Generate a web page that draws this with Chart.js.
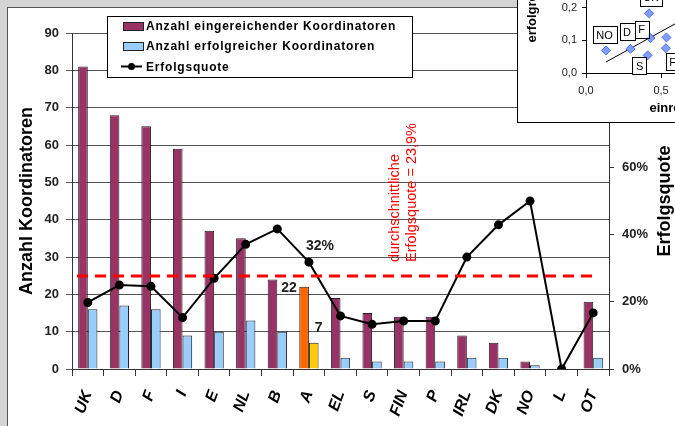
<!DOCTYPE html>
<html>
<head>
<meta charset="utf-8">
<script src="https://cdn.jsdelivr.net/npm/chart.js@4.4.1/dist/chart.umd.min.js"></script>
<style>
    html, body { margin: 0; padding: 0; width: 675px; height: 426px; overflow: hidden; background: #d4d4d4; }
    #frame { position: absolute; left: 7px; top: 7px; width: 720px; height: 460px; background: #fff; border: 1px solid #555; }
    #main { position: absolute; left: 0; top: 0; }
    #insetBox { position: absolute; left: 517px; top: -168px; width: 382px; height: 289px; background: #fff; border: 1px solid #000; }
    #insetBox canvas { display: block; }
</style>
</head>
<body>
<div id="frame"></div>
<canvas id="main" width="675" height="426"></canvas>
<div id="insetBox"><canvas id="inset" width="382" height="289"></canvas></div>

<script>
// Hauptdiagramm: Koordinatoren je Land
const categories = ['UK', 'D', 'F', 'I', 'E', 'NL', 'B', 'A', 'EL', 'S', 'FIN', 'P', 'IRL', 'DK', 'NO', 'L', 'OT'];
const submitted = [81, 68, 65, 59, 37, 35, 24, 22, 19, 15, 14, 14, 9, 7, 2, 0, 18];
const successful = [16, 17, 16, 9, 10, 13, 10, 7, 3, 2, 2, 2, 3, 3, 1, 0, 3];
const successRate = [19.8, 25.0, 24.6, 15.3, 27.0, 37.1, 41.7, 31.8, 15.8, 13.3, 14.3, 14.3, 33.3, 42.9, 50.0, 0, 16.7];
const highlightIndex = 7;          // A
const averageLevel = 24.9;         // Hoehe der roten Linie (linke Achse)
const averageText = ['durchschnittliche', 'Erfolgsquote = 23,9%'];
const countMax = 90, countStep = 10;
const rateMax = 100, rateStep = 20;

// Einsatz-Diagramm (Streudiagramm oben rechts)
const insetX = [0.134, 0.296, 0.41, 0.43, 0.42, 0.536, 0.532];
const insetY = [0.069, 0.074, 0.054, 0.107, 0.183, 0.109, 0.076];
const trendX = [0.134, 1.0];
const trendY = [0.034, 0.254];
const tagText = ['NO', 'D', 'F', 'S', 'FIN', 'UK'];
const tagX = [0.123, 0.273, 0.371, 0.357, 0.613, 0.432];
const tagY = [0.117, 0.126, 0.134, 0.022, 0.034, 0.232];

const MAROON = '#993366', LIGHTBLUE = '#99ccff', ORANGE = '#ff6600', YELLOW = '#ffcc00';

const maroonColors = categories.map((c, i) => i === highlightIndex ? ORANGE : MAROON);
const blueColors = categories.map((c, i) => i === highlightIndex ? YELLOW : LIGHTBLUE);

// Legende im Excel-Stil (Kasten ueber dem Diagramm)
const boxLegend = {
    id: 'boxLegend',
    afterDraw(chart) {
        const ctx = chart.ctx;
        const ds = chart.data.datasets;
        ctx.save();
        ctx.fillStyle = '#fff';
        ctx.fillRect(107, 16, 305, 61);
        ctx.strokeStyle = '#000';
        ctx.lineWidth = 1;
        ctx.strokeRect(107.5, 16.5, 305, 61);
        ctx.font = 'bold 12px Arial';
        if ('letterSpacing' in ctx) ctx.letterSpacing = '0.8px';
        ctx.textBaseline = 'middle';
        ctx.textAlign = 'left';
        const rows = [26, 46, 66.5];
        for (let k = 0; k < 3; k++) {
            const y = rows[k];
            if (k < 2) {
                ctx.fillStyle = k === 0 ? MAROON : LIGHTBLUE;
                ctx.fillRect(123, y - 4, 20, 8);
                ctx.strokeStyle = '#222';
                ctx.strokeRect(123.5, y - 3.5, 20, 8);
            } else {
                ctx.strokeStyle = '#000';
                ctx.lineWidth = 2;
                ctx.beginPath(); ctx.moveTo(121, y); ctx.lineTo(142, y); ctx.stroke();
                ctx.fillStyle = '#000';
                ctx.beginPath(); ctx.arc(131.5, y, 3.5, 0, Math.PI * 2); ctx.fill();
                ctx.lineWidth = 1;
            }
            ctx.fillStyle = '#000';
            ctx.fillText(ds[k].label, 146, y + 1);
        }
        ctx.restore();
    }
};

// rote Durchschnittslinie, Beschriftungen, rechter Achsentitel
const extras = {
    id: 'extras',
    afterDatasetsDraw(chart) {
        const ctx = chart.ctx;
        const area = chart.chartArea;
        const yS = chart.scales.y;
        const xS = chart.scales.x;
        const yAvg = yS.getPixelForValue(averageLevel);
        ctx.save();
        ctx.strokeStyle = '#ff0000';
        ctx.lineWidth = 3;
        ctx.setLineDash([11, 7]);
        ctx.beginPath();
        ctx.moveTo(area.left + 5, yAvg);
        ctx.lineTo(xS.getPixelForValue(categories.length - 1), yAvg);
        ctx.stroke();
        ctx.setLineDash([]);

        // Text zur Durchschnittsquote
        ctx.fillStyle = '#ff0000';
        ctx.font = '14.5px Arial';
        ctx.translate(area.left + 323, yAvg - 14);
        ctx.rotate(-Math.PI / 2);
        ctx.textAlign = 'left';
        ctx.textBaseline = 'middle';
        ctx.fillText(averageText[0], 0, 0);
        ctx.fillText(averageText[1], 0, 17);
        ctx.restore();

        // Werte fuer A
        const i = highlightIndex;
        const bar0 = chart.getDatasetMeta(0).data[i];
        const bar1 = chart.getDatasetMeta(1).data[i];
        const pt = chart.getDatasetMeta(2).data[i];
        ctx.save();
        ctx.fillStyle = '#222';
        ctx.font = 'bold 14px Arial';
        ctx.textAlign = 'center';
        ctx.textBaseline = 'middle';
        ctx.fillText(String(submitted[i]), bar0.x - 15, bar0.y + 1);
        ctx.fillText(String(successful[i]), bar1.x + 5, bar1.y - 15);
        ctx.fillText(Math.round(successRate[i]) + '%', pt.x + 11, pt.y - 16);
        ctx.restore();
    },
    afterDraw(chart) {
        const ctx = chart.ctx;
        const r = chart.scales.y1;
        ctx.save();
        ctx.fillStyle = '#000';
        ctx.font = 'bold 18px Arial';
        ctx.translate(r.right - 10, (r.top + r.bottom) / 2);
        ctx.rotate(-Math.PI / 2);
        ctx.textAlign = 'center';
        ctx.textBaseline = 'middle';
        ctx.fillText('Erfolgsquote', 0, 0);
        ctx.restore();
    }
};

new Chart(document.getElementById('main'), {
    type: 'bar',
    data: {
        labels: categories,
        datasets: [{
            label: 'Anzahl eingereichender Koordinatoren',
            data: submitted,
            backgroundColor: maroonColors,
            borderColor: '#222',
            borderWidth: 1,
            yAxisID: 'y',
            order: 2
        }, {
            label: 'Anzahl erfolgreicher Koordinatoren',
            data: successful,
            backgroundColor: blueColors,
            borderColor: '#222',
            borderWidth: 1,
            yAxisID: 'y',
            order: 2
        }, {
            type: 'line',
            label: 'Erfolgsquote',
            data: successRate,
            borderColor: '#000',
            borderWidth: 2,
            pointRadius: 3.5,
            pointBackgroundColor: '#000',
            pointBorderColor: '#000',
            tension: 0,
            yAxisID: 'y1',
            order: 0
        }]
    },
    plugins: [extras, boxLegend],
    options: {
        responsive: false,
        animation: false,
        devicePixelRatio: 1,
        categoryPercentage: 0.61,
        barPercentage: 1.0,
        layout: { padding: { top: 33, left: 0, right: 0, bottom: 0 } },
        scales: {
            x: {
                grid: { display: true, drawOnChartArea: false, tickLength: 7, color: '#333', offset: true },
                border: { color: '#333' },
                ticks: {
                    color: '#000',
                    font: { family: 'Arial', size: 16, weight: 'bold', style: 'italic' },
                    minRotation: 70,
                    maxRotation: 70,
                    padding: 12,
                    autoSkip: false
                },
                afterFit(s) { s.height = 57; }
            },
            y: {
                position: 'left',
                min: 0,
                max: countMax,
                ticks: {
                    stepSize: countStep,
                    color: '#222',
                    padding: 7,
                    font: { family: 'Arial', size: 13, weight: 'bold' }
                },
                grid: { color: '#555', tickLength: 6 },
                border: { color: '#333' },
                title: {
                    display: true,
                    text: 'Anzahl Koordinatoren',
                    color: '#000',
                    font: { family: 'Arial', size: 18, weight: 'bold' },
                    padding: { top: 16, bottom: 0 }
                },
                afterFit(s) { s.width = 72; }
            },
            y1: {
                position: 'right',
                min: 0,
                max: rateMax,
                ticks: {
                    stepSize: rateStep,
                    color: '#222',
                    padding: 8,
                    font: { family: 'Arial', size: 13, weight: 'bold' },
                    callback: v => v + '%'
                },
                grid: { drawOnChartArea: false, tickLength: 5, color: '#333' },
                border: { color: '#333' },
                afterFit(s) { s.width = 66; }
            }
        },
        plugins: {
            legend: { display: false },
            tooltip: { enabled: false }
        }
    }
});

// Kaestchen mit Laenderkuerzeln im Streudiagramm
const insetTags = {
    id: 'insetTags',
    afterDatasetsDraw(chart) {
        const ctx = chart.ctx;
        const xs = chart.scales.x, ys = chart.scales.y;
        ctx.save();
        ctx.font = '11px Arial';
        ctx.textAlign = 'center';
        ctx.textBaseline = 'middle';
        for (let k = 0; k < tagText.length; k++) {
            const cx = xs.getPixelForValue(tagX[k]);
            const cy = ys.getPixelForValue(tagY[k]);
            const w = ctx.measureText(tagText[k]).width + 7;
            const h = 17;
            ctx.fillStyle = '#fff';
            ctx.fillRect(cx - w / 2, cy - h / 2, w, h);
            ctx.strokeStyle = '#000';
            ctx.lineWidth = 1;
            ctx.strokeRect(Math.round(cx - w / 2) + 0.5, Math.round(cy - h / 2) + 0.5, Math.round(w), h);
            ctx.fillStyle = '#000';
            ctx.fillText(tagText[k], cx, cy + 1);
        }
        ctx.restore();
    }
};

const commaTick = v => v.toFixed(1).replace('.', ',');

new Chart(document.getElementById('inset'), {
    type: 'scatter',
    data: {
        datasets: [{
            label: 'Laender',
            data: insetX.map((x, i) => ({ x: x, y: insetY[i] })),
            pointStyle: 'rectRot',
            pointRadius: 4.5,
            backgroundColor: '#7f9dff',
            borderColor: '#4f70f0',
            borderWidth: 1
        }, {
            type: 'line',
            label: 'Trend',
            data: trendX.map((x, i) => ({ x: x, y: trendY[i] })),
            borderColor: '#000',
            borderWidth: 1,
            pointRadius: 0
        }]
    },
    plugins: [insetTags],
    options: {
        responsive: false,
        animation: false,
        devicePixelRatio: 1,
        layout: { padding: { top: 8, left: 0, right: 0, bottom: 0 } },
        scales: {
            x: {
                type: 'linear',
                min: 0,
                max: 2,
                ticks: { stepSize: 0.5, color: '#222', padding: 6, font: { family: 'Arial', size: 11 }, callback: commaTick },
                grid: { drawOnChartArea: false, tickLength: 5, color: '#000' },
                border: { color: '#000' },
                title: {
                    display: true,
                    text: 'einreichende Koordinatoren',
                    color: '#000',
                    font: { family: 'Arial', size: 13, weight: 'bold' },
                    padding: { top: 0, bottom: 6 }
                },
                afterFit(s) { s.height = 49; }
            },
            y: {
                min: 0,
                max: 0.7,
                ticks: { stepSize: 0.1, color: '#222', padding: 5, font: { family: 'Arial', size: 11 }, callback: commaTick },
                grid: { drawOnChartArea: false, tickLength: 4, color: '#000' },
                border: { color: '#000' },
                title: {
                    display: true,
                    text: 'erfolgreiche Koordinatoren',
                    color: '#000',
                    font: { family: 'Arial', size: 13, weight: 'bold' },
                    padding: { top: 7, bottom: 0 }
                },
                afterFit(s) { s.width = 68; }
            }
        },
        plugins: {
            legend: { display: false },
            tooltip: { enabled: false }
        }
    }
});
</script>
</body>
</html>
